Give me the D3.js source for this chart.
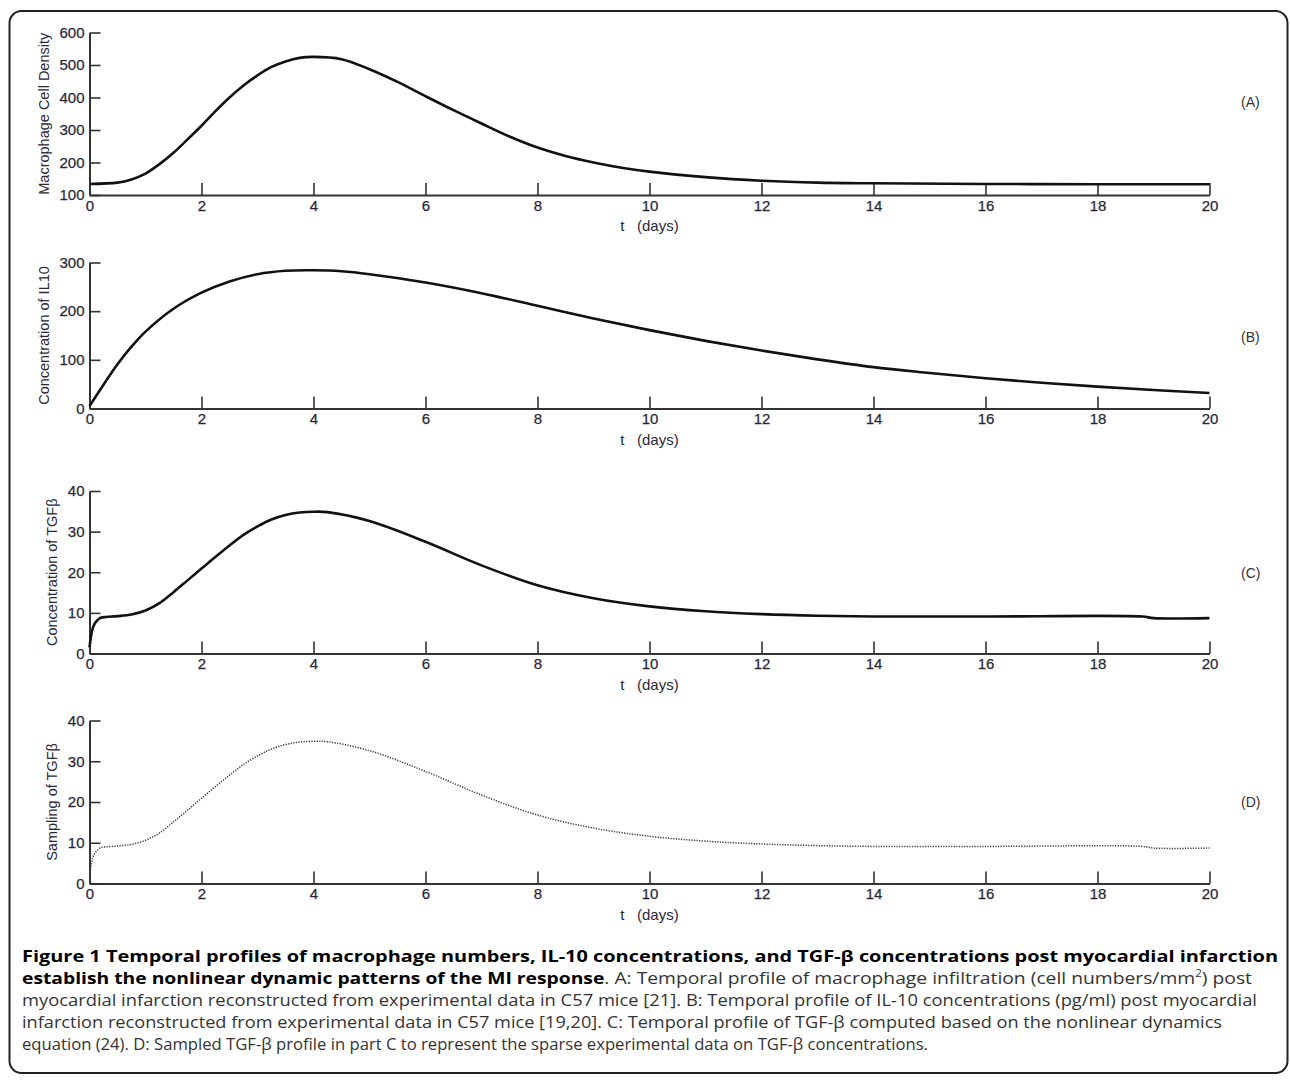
<!DOCTYPE html>
<html>
<head>
<meta charset="utf-8">
<script src="https://cdn.jsdelivr.net/npm/d3@7"></script>
<style>
  html, body { margin: 0; padding: 0; background: #fff; }
  svg { display: block; }
</style>
</head>
<body>
<svg id="fig" width="1290" height="1080"></svg>
<script>
// Datos
const xTicks = [0, 2, 4, 6, 8, 10, 12, 14, 16, 18, 20];

// (A) macrófagos
const tMacro = [0, 0.5, 0.75, 1, 1.25, 1.5, 1.75, 2, 2.25, 2.5, 2.75, 3, 3.25, 3.5, 3.75, 4, 4.5, 5, 5.5, 6, 6.5, 7, 7.5, 8, 8.5, 9, 9.5, 10, 11, 12, 13, 14, 16, 18, 20];
const macrophage = [134, 138, 148, 166, 195, 230, 271, 313, 358, 400, 437, 468, 494, 511, 522, 525, 518, 487, 448, 404, 361, 320, 280, 246, 220, 200, 184, 172, 155, 144, 138, 136, 134, 133, 133];
const macroTicks = [100, 200, 300, 400, 500, 600];

// (B) IL-10
const tIl10 = [0, 0.25, 0.5, 0.75, 1, 1.5, 2, 2.5, 3, 3.5, 4, 4.5, 5, 6, 7, 8, 9, 10, 11, 12, 13, 14, 15, 16, 17, 18, 19, 20];
const il10 = [5, 49, 91, 127, 158, 205, 238, 261, 276, 283, 284, 282, 276, 259, 237, 211, 185, 161, 139, 119, 101, 85, 73, 62, 53, 45, 38, 32];
const il10Ticks = [0, 100, 200, 300];

// (C) TGF-beta, y (D) su muestreo
const tTgf = [0, 0.03, 0.06, 0.1, 0.15, 0.2, 0.3, 0.5, 0.75, 1, 1.25, 1.5, 1.75, 2, 2.25, 2.5, 2.75, 3, 3.25, 3.5, 3.75, 4, 4.25, 5, 6, 7, 8, 9, 10, 11, 12, 13, 14, 16, 18.8, 19, 20];
const tgf = [1.5, 4.5, 6.3, 7.5, 8.3, 8.8, 9.0, 9.2, 9.6, 10.6, 12.4, 15.1, 18.0, 20.9, 23.8, 26.6, 29.2, 31.3, 33.0, 34.1, 34.7, 34.9, 34.8, 32.6, 27.5, 21.7, 16.8, 13.6, 11.6, 10.4, 9.7, 9.3, 9.1, 9.1, 9.1, 8.7, 8.7];
const tgfTicks = [0, 10, 20, 30, 40];

const panelLetters = ['(A)', '(B)', '(C)', '(D)'];
const yTitles = ['Macrophage Cell Density', 'Concentration of IL10', 'Concentration of TGF\u03b2', 'Sampling of TGF\u03b2'];
const xTitle = 't   (days)';

const svg = d3.select('#fig');
const axisFont = '"Liberation Sans", Arial, sans-serif';

// marco redondeado
svg.append('rect')
  .attr('x', 9.5).attr('y', 11).attr('width', 1278).attr('height', 1062)
  .attr('rx', 12).attr('fill', 'none').attr('stroke', '#222').attr('stroke-width', 2);

const x = d3.scaleLinear().domain([0, 20]).range([89.5, 1209.5]);

const panels = [
  { t: tMacro, v: macrophage, ticks: macroTicks, dom: [100, 600], top: 32.5, bot: 195, labX: 44, labelY: 102, dotted: false },
  { t: tIl10, v: il10, ticks: il10Ticks, dom: [0, 300], top: 262.5, bot: 408.5, labX: 44, labelY: 337, dotted: false },
  { t: tTgf, v: tgf, ticks: tgfTicks, dom: [0, 40], top: 491, bot: 653.5, labX: 52, labelY: 573, dotted: false },
  { t: tTgf, v: tgf, ticks: tgfTicks, dom: [0, 40], top: 720.5, bot: 883.5, labX: 52, labelY: 802, dotted: true }
];

panels.forEach((p, i) => {
  const y = d3.scaleLinear().domain(p.dom).range([p.bot, p.top]);
  const g = svg.append('g');

  // eje x
  const gx = g.append('g')
    .attr('transform', `translate(0,${p.bot})`)
    .call(d3.axisBottom(x).tickValues(xTicks).tickSize(-12).tickSizeOuter(0).tickPadding(5));

  // eje y
  const gy = g.append('g')
    .attr('transform', `translate(${x(0)},0)`)
    .call(d3.axisLeft(y).tickValues(p.ticks).tickSize(-11).tickSizeOuter(0).tickPadding(5));

  [gx, gy].forEach(a => {
    a.select('.domain').attr('stroke', '#333').attr('stroke-width', 2);
    a.selectAll('.tick line').attr('stroke', '#333').attr('stroke-width', 1.6);
    a.selectAll('.tick text')
      .attr('font-family', axisFont).attr('font-size', 15).attr('fill', '#2a2838')
      .attr('stroke', '#2a2838').attr('stroke-width', 0.25);
  });

  // títulos
  g.append('text')
    .attr('x', x(10)).attr('y', p.bot + 36)
    .attr('text-anchor', 'middle')
    .style('white-space', 'pre')
    .attr('font-family', axisFont).attr('font-size', 15).attr('fill', '#2a2838')
    .text(xTitle);

  g.append('text')
    .attr('transform', `translate(${p.labX},${(p.top + p.bot) / 2}) rotate(-90)`)
    .attr('text-anchor', 'middle')
    .attr('dy', '0.35em')
    .attr('font-family', axisFont).attr('font-size', 14.5).attr('fill', '#2a2838')
    .text(yTitles[i]);

  g.append('text')
    .attr('x', 1241).attr('y', p.labelY).attr('dy', '0.35em')
    .attr('font-family', axisFont).attr('font-size', 14).attr('fill', '#333')
    .text(panelLetters[i]);

  // curva
  const line = d3.line()
    .x((d, k) => x(p.t[k]))
    .y(d => y(d))
    .curve(d3.curveCatmullRom.alpha(0.5));

  g.append('path')
    .datum(p.v)
    .attr('d', line)
    .attr('fill', 'none')
    .attr('stroke', p.dotted ? '#444' : '#111')
    .attr('stroke-width', p.dotted ? 1.5 : 2.6)
    .attr('stroke-dasharray', p.dotted ? '1.3,1.3' : null)
    .attr('stroke-linejoin', 'round');
});

// Leyenda de la figura
const capFont = '"Open Sans", "Noto Sans", sans-serif';
const capLines = [
  { w: 1256, parts: [{ b: true, s: 'Figure 1 Temporal profiles of macrophage numbers, IL-10 concentrations, and TGF-\u03b2 concentrations post myocardial infarction' }] },
  { w: 1230, parts: [
      { b: true, s: 'establish the nonlinear dynamic patterns of the MI response' },
      { s: '. A: Temporal profile of macrophage infiltration (cell numbers/mm' },
      { sup: true, s: '2' },
      { s: ') post' }] },
  { w: 1235, parts: [{ s: 'myocardial infarction reconstructed from experimental data in C57 mice [21]. B: Temporal profile of IL-10 concentrations (pg/ml) post myocardial' }] },
  { w: 1200, parts: [{ s: 'infarction reconstructed from experimental data in C57 mice [19,20]. C: Temporal profile of TGF-\u03b2 computed based on the nonlinear dynamics' }] },
  { w: 906, parts: [{ s: 'equation (24). D: Sampled TGF-\u03b2 profile in part C to represent the sparse experimental data on TGF-\u03b2 concentrations.' }] }
];

capLines.forEach((ln, i) => {
  const t = svg.append('text')
    .attr('x', 22).attr('y', 962 + i * 22)
    .attr('font-family', capFont).attr('font-size', 16.5).attr('fill', '#333')
    .style('white-space', 'pre');
  ln.parts.forEach(pt => {
    const sp = t.append('tspan').text(pt.s);
    if (pt.b) sp.attr('font-weight', 'bold').attr('fill', '#000');
    if (pt.sup) sp.attr('font-size', 10).attr('dy', -7);
    else if (pt.s.startsWith(')')) sp.attr('dy', 7);
  });
  t.attr('textLength', ln.w).attr('lengthAdjust', 'spacingAndGlyphs');
});
</script>
</body>
</html>
